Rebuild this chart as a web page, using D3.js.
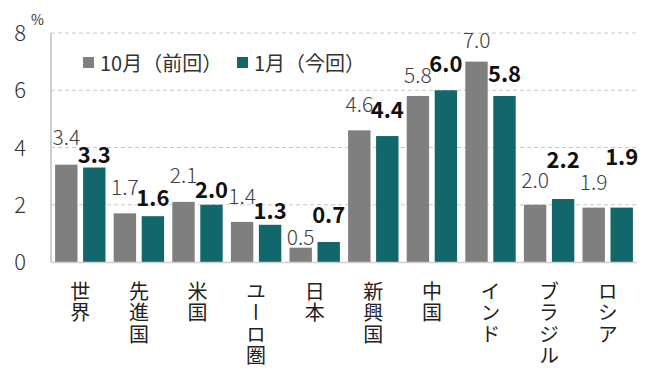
<!DOCTYPE html>
<html>
<head>
<meta charset="utf-8">
<script src="https://cdn.jsdelivr.net/npm/d3@7"></script>
<style>
  body { margin: 0; background: #fff; }
  svg text { font-family: "Noto Sans CJK JP", "Noto Sans", sans-serif; }
</style>
</head>
<body>
<svg id="chart"></svg>
<script>
// 地域
const categories = ["世界", "先進国", "米国", "ユーロ圏", "日本", "新興国", "中国", "インド", "ブラジル", "ロシア"];
// 10月（前回）
const prevValues = [3.4, 1.7, 2.1, 1.4, 0.5, 4.6, 5.8, 7.0, 2.0, 1.9];
// 1月（今回）
const currValues = [3.3, 1.6, 2.0, 1.3, 0.7, 4.4, 6.0, 5.8, 2.2, 1.9];
const yTicks = [0, 2, 4, 6, 8];
const seriesNames = ["10月（前回）", "1月（今回）"];

// ラベルの持ち上げ量（px）
const prevLift = [20, 18, 19, 18, 3, 18, 13, 14, 17, 18];
const currLift = [5, 10, 7, 6, 19, 18, 18, 14, 31, 43];

const colors = ["#7f7f7f", "#11676b"];
const svgWidth = 650, svgHeight = 370;
const plotLeft = 51, plotRight = 637, plotTop = 33, plotBottom = 262;

const svg = d3.select("#chart").attr("width", svgWidth).attr("height", svgHeight);

const y = d3.scaleLinear().domain([0, 8]).range([plotBottom, plotTop]);
const x0 = d3.scaleBand().domain(categories).range([plotLeft, plotRight]).paddingInner(0.14).paddingOuter(0.07);
const x1 = d3.scaleBand().domain(["prev", "curr"]).range([0, x0.bandwidth()]).paddingInner(0.2);

// グリッド線
svg.append("g")
  .selectAll("line")
  .data(yTicks.filter(d => d > 0))
  .join("line")
  .attr("x1", plotLeft).attr("x2", plotRight)
  .attr("y1", d => y(d)).attr("y2", d => y(d))
  .style("stroke", "#c8c8c8")
  .style("stroke-width", 1)
  .style("stroke-dasharray", "4 3");

// Y 軸ラベル
svg.append("g")
  .selectAll("text")
  .data(yTicks)
  .join("text")
  .attr("x", 26)
  .attr("y", d => y(d) + 8)
  .attr("text-anchor", "end")
  .style("font-size", "22px")
  .style("font-weight", 300)
  .style("fill", "#333")
  .text(d => d);

svg.append("text")
  .attr("x", 31).attr("y", 25)
  .style("font-size", "14px")
  .style("fill", "#333")
  .text("%");

// 棒
const groups = svg.append("g")
  .selectAll("g")
  .data(categories)
  .join("g")
  .attr("transform", d => `translate(${x0(d)},0)`);

groups.append("rect")
  .attr("x", x1("prev"))
  .attr("y", (d, i) => y(prevValues[i]))
  .attr("width", x1.bandwidth())
  .attr("height", (d, i) => y(0) - y(prevValues[i]))
  .style("fill", colors[0]);

groups.append("rect")
  .attr("x", x1("curr"))
  .attr("y", (d, i) => y(currValues[i]))
  .attr("width", x1.bandwidth())
  .attr("height", (d, i) => y(0) - y(currValues[i]))
  .style("fill", colors[1]);

// 数値ラベル
groups.append("text")
  .attr("x", x1("prev") + x1.bandwidth() / 2)
  .attr("y", (d, i) => y(prevValues[i]) - prevLift[i])
  .attr("text-anchor", "middle")
  .style("font-size", "21px")
  .style("font-weight", 300)
  .style("fill", "#404040")
  .text((d, i) => prevValues[i].toFixed(1));

groups.append("text")
  .attr("x", x1("curr") + x1.bandwidth() / 2)
  .attr("y", (d, i) => y(currValues[i]) - currLift[i])
  .attr("text-anchor", "middle")
  .style("font-size", "22px")
  .style("font-weight", 700)
  .style("fill", "#111")
  .text((d, i) => currValues[i].toFixed(1));

// 軸線
svg.append("line")
  .attr("x1", plotLeft).attr("x2", plotLeft).attr("y1", plotTop).attr("y2", plotBottom)
  .style("stroke", "#bfbfbf").style("stroke-width", 1.5);
svg.append("line")
  .attr("x1", plotLeft).attr("x2", plotRight).attr("y1", plotBottom + 0.5).attr("y2", plotBottom + 0.5)
  .style("stroke", "#d0d0d0").style("stroke-width", 1.5);

// カテゴリ（縦書き）
svg.append("g")
  .selectAll("text")
  .data(categories)
  .join("text")
  .attr("x", d => x0(d) + x0.bandwidth() / 2)
  .attr("y", 281)
  .style("writing-mode", "vertical-rl")
  .style("text-orientation", "upright")
  .style("letter-spacing", "1.5px")
  .style("font-size", "20px")
  .style("fill", "#222")
  .text(d => d);

// 凡例
const legend = svg.append("g");
const legendX = [83, 237];
seriesNames.forEach((name, i) => {
  legend.append("rect")
    .attr("x", legendX[i]).attr("y", 57)
    .attr("width", 11).attr("height", 11)
    .style("fill", colors[i]);
  legend.append("text")
    .attr("x", legendX[i] + 17).attr("y", 71)
    .style("font-size", "20px")
    .style("fill", "#333")
    .text(name);
});
</script>
</body>
</html>
